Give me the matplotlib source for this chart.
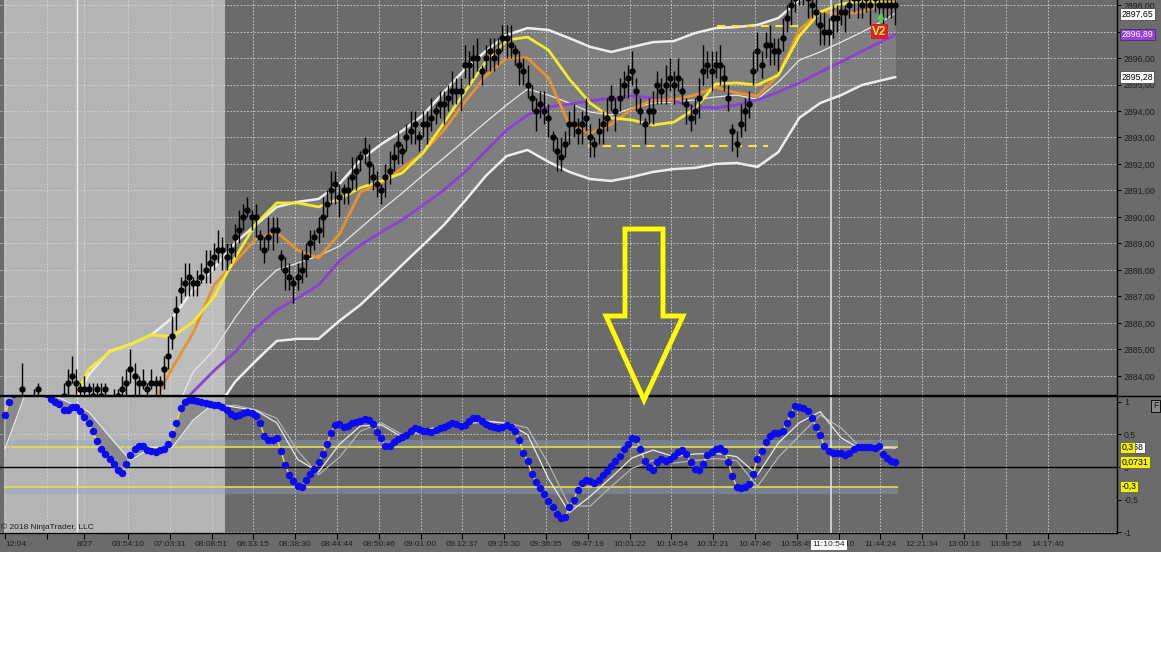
import matplotlib
matplotlib.use('Agg')
import matplotlib.pyplot as plt
import numpy as np
from matplotlib.patches import Rectangle, Polygon
from matplotlib.lines import Line2D
from matplotlib.ticker import FuncFormatter

plt.rcParams['font.family'] = ['Liberation Sans', 'DejaVu Sans']

# ---- price bars (one per bar index) ----
closes = [
    2883.0, 2882.75, 2882.75, 2883.0, 2883.5, 2883.0, 2882.75, 2883.0, 2883.5, 2883.0,
    2882.75, 2882.5, 2882.75, 2883.0, 2883.25, 2883.75, 2884.0, 2883.75, 2883.5, 2883.5,
    2883.5, 2883.25, 2883.5, 2883.25, 2883.5, 2883.0, 2883.0, 2883.25, 2883.5, 2883.75,
    2884.25, 2884.0, 2883.75, 2883.75, 2883.5, 2883.75, 2883.75, 2883.75, 2884.25, 2884.75,
    2885.5, 2886.5, 2887.25, 2887.5, 2887.75, 2887.5, 2887.5, 2887.75, 2888.0, 2888.25,
    2888.5, 2888.75, 2888.75, 2888.5, 2888.75, 2889.25, 2889.5, 2890.0, 2890.25, 2890.0,
    2890.0, 2889.25, 2888.75, 2889.25, 2889.5, 2889.5, 2888.5, 2888.0, 2887.75, 2887.5,
    2887.75, 2888.0, 2888.5, 2889.0, 2889.25, 2889.5, 2890.0, 2890.5, 2891.0, 2891.25,
    2890.75, 2891.0, 2891.0, 2891.5, 2891.75, 2892.25, 2892.5, 2892.0, 2891.5, 2891.25,
    2891.0, 2891.5, 2891.75, 2892.25, 2892.75, 2892.5, 2893.0, 2893.25, 2893.5, 2893.0,
    2893.5, 2893.5, 2893.75, 2894.0, 2894.25, 2894.25, 2894.5, 2894.75, 2894.75, 2894.75,
    2895.75, 2895.75, 2896.0, 2896.0, 2895.5, 2896.0, 2896.25, 2896.0, 2896.25, 2896.75,
    2896.75, 2896.5, 2896.25, 2895.75, 2895.5, 2895.0, 2894.5, 2894.0, 2894.25, 2894.0,
    2893.75, 2893.0, 2892.5, 2892.25, 2892.75, 2893.5, 2893.5, 2893.25, 2893.5, 2893.75,
    2893.0, 2892.75, 2893.25, 2893.5, 2893.75, 2894.5, 2894.0, 2894.5, 2895.0, 2895.25,
    2895.5, 2894.75, 2894.0, 2893.5, 2894.0, 2894.0, 2895.0, 2894.75, 2895.0, 2895.25,
    2895.0, 2895.25, 2894.75, 2894.25, 2893.75, 2894.0, 2894.5, 2895.5, 2895.75, 2895.5,
    2895.75, 2895.75, 2895.25, 2894.5, 2893.25, 2892.75, 2893.5, 2894.0, 2894.25, 2895.5,
    2896.25, 2895.75, 2896.5, 2896.5, 2896.25, 2896.25, 2896.75, 2897.5, 2898.0, 2898.25,
    2898.5, 2898.5, 2898.25, 2898.0, 2897.75, 2897.25, 2897.0, 2897.0, 2897.5, 2897.5,
    2897.75, 2897.75, 2898.0, 2898.25, 2898.25, 2898.0, 2898.25, 2898.0, 2898.25, 2898.0,
    2898.0, 2898.0, 2898.0, 2898.0,
]
# wick lengths in ticks (0.25 pt)
wick_up = [
    1, 1, 2, 1, 4, 1, 1, 2, 1, 1,  1, 2, 1, 1, 2, 2, 3, 2, 1, 2,
    1, 2, 1, 2, 1, 1, 2, 1, 2, 2,  3, 2, 1, 2, 1, 2, 1, 1, 2, 3,
    3, 2, 2, 3, 2, 1, 2, 2, 3, 2,  2, 3, 2, 2, 1, 2, 3, 2, 2, 1,
    2, 1, 2, 3, 2, 2, 1, 2, 2, 1,  2, 3, 2, 2, 1, 2, 3, 2, 3, 2,
    2, 1, 2, 3, 2, 1, 2, 3, 2, 2,  1, 2, 3, 2, 2, 1, 2, 3, 2, 1,
    2, 2, 3, 1, 2, 2, 2, 3, 2, 2,  3, 2, 2, 3, 1, 2, 2, 3, 2, 2,
    2, 3, 1, 2, 2, 3, 2, 2, 2, 3,  2, 1, 2, 3, 2, 2, 3, 2, 2, 3,
    2, 1, 2, 2, 3, 2, 2, 3, 2, 2,  3, 2, 2, 1, 2, 3, 2, 2, 3, 3,
    2, 3, 2, 1, 2, 2, 3, 4, 2, 3,  2, 3, 2, 2, 1, 2, 3, 2, 2, 3,
    3, 2, 2, 3, 2, 2, 3, 2, 2, 1,  1, 2, 2, 1, 2, 2, 3, 2, 2, 2,
    2, 1, 2, 1, 2, 1, 2, 1, 2, 1,  2, 1, 2, 1,
]
wick_dn = [
    1, 2, 1, 1, 1, 2, 1, 1, 2, 1,  2, 1, 1, 2, 1, 2, 1, 2, 2, 1,
    2, 1, 2, 1, 2, 2, 1, 2, 1, 2,  2, 3, 2, 1, 2, 1, 2, 2, 3, 2,
    2, 3, 2, 2, 3, 2, 2, 1, 2, 3,  2, 2, 3, 2, 2, 3, 2, 2, 1, 2,
    3, 2, 2, 2, 3, 2, 2, 3, 2, 3,  2, 2, 3, 2, 2, 2, 3, 2, 2, 3,
    3, 2, 2, 2, 3, 2, 2, 3, 2, 2,  2, 3, 2, 2, 3, 2, 2, 2, 3, 2,
    2, 3, 2, 2, 2, 3, 2, 2, 2, 3,  2, 3, 3, 2, 2, 2, 3, 2, 2, 2,
    3, 2, 2, 3, 2, 2, 2, 3, 2, 2,  3, 2, 3, 2, 2, 3, 2, 2, 3, 2,
    3, 2, 2, 3, 2, 2, 3, 2, 2, 3,  2, 3, 2, 3, 2, 2, 3, 2, 3, 2,
    3, 2, 2, 3, 2, 2, 3, 2, 2, 3,  2, 3, 2, 2, 3, 2, 2, 3, 2, 2,
    3, 2, 2, 3, 2, 3, 2, 2, 3, 2,  2, 2, 3, 2, 2, 3, 2, 2, 3, 2,
    2, 3, 2, 2, 3, 2, 2, 3, 2, 2,  3, 2, 2, 3,
]

# ---- oscillator (one per bar) ----
osc = [
    0.8, 1.0, 1.12, 1.15, 1.18, 1.2, 1.2, 1.2, 1.18, 1.15,
    1.12, 1.05, 1.0, 0.97, 0.88, 0.88, 0.92, 0.92, 0.86, 0.77,
    0.67, 0.55, 0.4, 0.28, 0.2, 0.13, 0.05, -0.04, -0.09, 0.05,
    0.19, 0.27, 0.32, 0.33, 0.26, 0.24, 0.23, 0.26, 0.28, 0.35,
    0.5, 0.68, 0.9, 1.0, 1.03, 1.03, 1.01, 1.0, 0.98, 0.97,
    0.96, 0.95, 0.92, 0.88, 0.81, 0.78, 0.8, 0.83, 0.85, 0.83,
    0.79, 0.68, 0.48, 0.42, 0.42, 0.45, 0.25, 0.03, -0.12, -0.22,
    -0.29, -0.31, -0.2, -0.11, -0.03, 0.07, 0.2, 0.36, 0.53, 0.65,
    0.66, 0.62, 0.63, 0.68, 0.69, 0.71, 0.74, 0.73, 0.66, 0.54,
    0.44, 0.32, 0.32, 0.38, 0.43, 0.46, 0.49, 0.56, 0.6, 0.58,
    0.56, 0.55, 0.54, 0.57, 0.6, 0.62, 0.65, 0.68, 0.66, 0.63,
    0.64, 0.7, 0.76, 0.76, 0.71, 0.66, 0.63, 0.62, 0.6, 0.62,
    0.65, 0.62, 0.55, 0.41, 0.22, 0.09, -0.1, -0.23, -0.32, -0.41,
    -0.52, -0.62, -0.73, -0.78, -0.77, -0.61, -0.5, -0.36, -0.24, -0.2,
    -0.22, -0.24, -0.2, -0.13, -0.06, 0.02, 0.1, 0.17, 0.27, 0.36,
    0.44, 0.43, 0.27, 0.1, 0.0, -0.04, 0.08, 0.13, 0.1, 0.12,
    0.17, 0.23, 0.26, 0.2, 0.07, -0.03, -0.04, 0.05, 0.18, 0.23,
    0.28, 0.29, 0.25, 0.08, -0.14, -0.3, -0.32, -0.3, -0.26, -0.1,
    0.13, 0.25, 0.39, 0.48, 0.52, 0.52, 0.56, 0.68, 0.82, 0.94,
    0.93, 0.91, 0.86, 0.76, 0.62, 0.49, 0.32, 0.24, 0.22, 0.22,
    0.22, 0.18, 0.22, 0.27, 0.3, 0.31, 0.31, 0.3, 0.29, 0.33,
    0.2, 0.14, 0.1, 0.07,
]

# ---- indicator lines, sampled every 5 bars ----
ma_bars = list(range(0, 211, 5)) + [213]
ema_fast = [
    2882.0, 2882.2, 2882.5, 2882.6, 2884.25, 2884.9, 2885.2, 2885.55, 2885.47, 2886.04,
    2886.98, 2888.45, 2889.74, 2890.53, 2890.53, 2890.38, 2890.68, 2891.1, 2891.36, 2891.66,
    2892.42, 2893.55, 2894.72, 2895.85, 2896.68, 2896.79, 2896.3, 2895.2, 2894.3, 2893.74,
    2893.66, 2893.47, 2893.58, 2894.08, 2895.02, 2895.06, 2894.98, 2895.36, 2896.83, 2897.74,
    2898.04, 2898.15, 2898.1, 2898.08,
]
ema_slow = [
    2881.0, 2881.3, 2881.6, 2881.9, 2882.1, 2882.3, 2882.5, 2882.8, 2884.3, 2885.62,
    2887.43, 2888.3, 2889.17, 2889.43, 2888.75, 2888.45, 2889.36, 2890.94, 2891.28, 2891.85,
    2892.42, 2893.28, 2894.34, 2895.32, 2896.0, 2896.0, 2895.25, 2893.47, 2893.17, 2893.5,
    2894.08, 2894.42, 2894.42, 2894.6, 2894.9, 2894.68, 2894.57, 2895.36, 2897.06, 2897.77,
    2897.66, 2897.74, 2898.04, 2898.15,
]
ma_long = [
    2879.5, 2879.8, 2880.1, 2880.4, 2880.7, 2881.0, 2881.4, 2881.9, 2882.6, 2883.4,
    2884.2, 2884.9, 2885.81, 2886.49, 2886.94, 2887.43, 2888.34, 2888.94, 2889.43, 2889.89,
    2890.45, 2891.02, 2891.7, 2892.49, 2893.28, 2893.85, 2894.15, 2894.26, 2894.38, 2894.49,
    2894.57, 2894.49, 2894.38, 2894.15, 2894.11, 2894.23, 2894.42, 2894.72, 2895.06, 2895.47,
    2895.85, 2896.26, 2896.64, 2896.89,
]
band_upper = [
    2880.5, 2880.8, 2881.3, 2882.5, 2884.04, 2884.94, 2885.2, 2885.55, 2886.19, 2887.25,
    2888.08, 2889.02, 2889.7, 2890.38, 2890.57, 2890.68, 2891.25, 2892.15, 2892.75, 2893.25,
    2893.85, 2894.72, 2895.58, 2896.26, 2896.87, 2897.13, 2897.06, 2896.75, 2896.42, 2896.23,
    2896.42, 2896.6, 2896.64, 2896.94, 2897.13, 2897.17, 2897.25, 2897.51, 2898.19, 2898.7,
    2899.0, 2899.2, 2899.35, 2899.4,
]
band_mid = [
    2878.0, 2878.3, 2878.6, 2879.0, 2879.4, 2879.8, 2880.3, 2881.0, 2882.4, 2884.15,
    2884.98, 2886.19, 2887.25, 2888.0, 2888.26, 2888.53, 2888.9, 2889.58, 2890.26, 2890.9,
    2891.58, 2892.23, 2892.9, 2893.58, 2894.23, 2894.83, 2894.6, 2894.3, 2893.96, 2893.85,
    2894.11, 2894.3, 2894.34, 2894.42, 2894.53, 2894.6, 2894.45, 2895.1, 2895.92, 2896.23,
    2896.6, 2896.98, 2897.4, 2897.7,
]
band_lower = [
    2876.0, 2876.3, 2876.6, 2877.0, 2877.4, 2877.8, 2878.3, 2879.0, 2880.0, 2881.2,
    2882.6, 2883.77, 2884.57, 2885.32, 2885.4, 2885.4, 2886.08, 2886.68, 2887.43, 2888.19,
    2888.94, 2889.7, 2890.6, 2891.55, 2892.3, 2892.53, 2892.08, 2891.7, 2891.43, 2891.36,
    2891.51, 2891.7, 2891.81, 2891.85, 2892.0, 2892.04, 2891.89, 2892.45, 2893.74, 2894.3,
    2894.6, 2894.98, 2895.17, 2895.28,
]
sig_fast = [
    0.28, 1.15, 1.15, 1.0, 0.85, 0.47, 0.1, 0.3, 0.3, 0.72,
    0.98, 0.92, 0.87, 0.68, 0.12, -0.08, 0.35, 0.63, 0.65, 0.46,
    0.57, 0.63, 0.68, 0.71, 0.67, 0.5, -0.18, -0.7, -0.45, -0.16,
    0.14, 0.26, 0.16, 0.2, 0.21, 0.16, -0.12, 0.37, 0.68, 0.85,
    0.45, 0.26, 0.3, 0.29,
]
sig_slow = [
    0.1, 0.9, 1.15, 1.1, 0.95, 0.65, 0.2, 0.22, 0.28, 0.55,
    0.93, 0.95, 0.88, 0.75, 0.25, -0.12, 0.15, 0.55, 0.68, 0.5,
    0.53, 0.6, 0.65, 0.7, 0.68, 0.6, 0.05, -0.6, -0.6, -0.3,
    -0.02, 0.1, 0.06, 0.1, 0.13, 0.1, -0.3, 0.15, 0.48, 0.8,
    0.6, 0.28, 0.28, 0.31,
]

# ---- levels / markers ----
dash_levels = [2892.68, 2897.2]
dash_start = [139.5, 170.3]
dash_end = [182.5, 191.4]
osc_levels = [0.3, -0.3]
signal_bar, signal_price = 209.2, 2897.0
session_start, session_end = -0.2, 52.6
date_bar = 17.2
cursor_bar = 197.6

tick_pos = [0, 10, 19, 29.4, 39.4, 49.4, 59.4, 69.4, 79.4, 89.4, 99.4, 109.4, 119.4,
            129.4, 139.4, 149.4, 159.4, 169.4, 179.4, 189.4, 199.4, 209.4, 219.4,
            229.4, 239.4, 249.4]
tick_labels = ['12:04', '', '8/27', '03:54:10', '07:03:31', '08:08:51', '08:33:15',
               '08:38:30', '08:44:44', '08:50:46', '09:01:00', '09:12:37', '09:25:30',
               '09:36:35', '09:47:19', '10:01:22', '10:14:54', '10:32:21', '10:47:46',
               '10:58:49', '11:27:10', '11:44:24', '12:21:34', '13:00:16', '13:38:58',
               '14:17:40']
price_ticks = list(range(2884, 2899))
osc_ticks = [-1, -0.5, 0, 0.5, 1]

W, H = 1161, 648
BG = '#6b6b6b'
LIGHT = '#b4b4b4'
GRID = '#d4d4d4'
TXT = '#1e1e1e'

fig = plt.figure(figsize=(W / 100, H / 100), dpi=100)
fig.patches.append(Rectangle((0, 1 - 552 / H), 1, 552 / H, transform=fig.transFigure,
                             facecolor=BG, edgecolor='none', zorder=-5))

ax = fig.add_axes([0, 1 - 395 / H, 1117 / W, 395 / H])
ax2 = fig.add_axes([0, 1 - 533 / H, 1117 / W, 137 / H], sharex=ax)

for a in (ax, ax2):
    a.set_facecolor(BG)
    a.set_axisbelow(True)
    for s in ('left', 'top'):
        a.spines[s].set_visible(False)
    for s in ('right', 'bottom'):
        a.spines[s].set_color('black')
        a.spines[s].set_linewidth(1)
    a.yaxis.tick_right()
    a.axvspan(session_start, session_end, color=LIGHT, lw=0, zorder=0.2)
    a.grid(axis='x', color=GRID, ls=(0, (2, 2)), lw=0.6)
    a.axvline(date_bar, color='#f0f0f0', lw=1, zorder=0.6)
    a.axvline(cursor_bar, color='#dedede', lw=1.2, zorder=4)
    a.tick_params(axis='y', direction='out', length=3, width=0.8, pad=2,
                  labelsize=6.3, labelcolor=TXT, color='black')

ax2.spines['top'].set_visible(True)
ax2.spines['top'].set_color('black')

ax.set_xlim(-1.2, 266.0)
ax.set_xticks(tick_pos)
ax.tick_params(axis='x', length=0, labelbottom=False)

# ---- price panel ----
ax.set_ylim(2883.28, 2898.19)
ax.set_yticks(price_ticks)
ax.yaxis.set_major_formatter(FuncFormatter(lambda v, p: f'{v:.2f}'.replace('.', ',')))
ax.grid(axis='y', color=GRID, ls=(0, (2, 2)), lw=0.6)

line_kw = dict(solid_joinstyle='round', solid_capstyle='round', zorder=3)
ax.fill_between(ma_bars, band_lower, band_upper, color='white', alpha=0.13, lw=0, zorder=1)
ax.plot(ma_bars, band_upper, color='#ededed', lw=1.8, **line_kw)
ax.plot(ma_bars, band_lower, color='#ededed', lw=1.8, **line_kw)
ax.plot(ma_bars, band_mid, color='#e6e6e6', lw=0.9, **line_kw)
ax.plot(ma_bars, ma_long, color='#8d3fd6', lw=2, **line_kw)
ax.plot(ma_bars, ema_slow, color='#e8932a', lw=2, **line_kw)
ax.plot(ma_bars, ema_fast, color='#f4ea2c', lw=2, **line_kw)

ax.hlines(dash_levels, dash_start, dash_end, colors='#f2e832', lw=1.5,
          linestyles=(0, (4, 3)), zorder=3)

bars = np.arange(len(closes))
c = np.array(closes)
hi = c + 0.25 * np.array(wick_up)
lo = c - 0.25 * np.array(wick_dn)
ax.vlines(bars, lo, hi, color='black', lw=1, zorder=5)
ax.plot(bars, c, 'o', color='black', ms=3.6, zorder=6)

ax.text(signal_bar, signal_price, 'V2', color='#ffef3a', fontsize=8.5, fontweight='bold',
        ha='center', va='center', zorder=8,
        bbox=dict(facecolor='#d8202c', edgecolor='none', pad=1.2))
ax.annotate('', xy=(signal_bar + 0.3, signal_price + 0.85),
            xytext=(signal_bar + 0.3, signal_price + 0.25),
            arrowprops=dict(arrowstyle='-|>', color='#4cd44c', lw=1.6, mutation_scale=8),
            zorder=8)

ytr = ax.get_yaxis_transform()
price_tags = [('2898,50', 2898.45, '#f0a030', 'black'),
              ('2897,65', 2897.65, 'white', 'black'),
              ('2896,89', 2896.89, '#9a3ee0', 'white'),
              ('2895,28', 2895.28, 'white', 'black')]
for txt, yv, fc, tc in price_tags:
    ax.text(1.004, yv, txt, transform=ytr, fontsize=6.3, color=tc, ha='left', va='center',
            clip_on=False, zorder=9,
            bbox=dict(boxstyle='square,pad=0.15', facecolor=fc, edgecolor='#333333', lw=0.5))

# ---- oscillator panel ----
ax2.set_ylim(-1.015, 1.092)
ax2.set_yticks(osc_ticks)
ax2.yaxis.set_major_formatter(FuncFormatter(lambda v, p: f'{v:g}'.replace('.', ',')))
ax2.hlines([0.5, -1.0], -1.2, 266.0, colors=GRID, lw=0.6, linestyles=(0, (2, 2)), zorder=0.5)
ax2.fill_between([session_start, 213.5], 0.3, 0.41, color='#8fa3c0', alpha=0.4, lw=0, zorder=1)
ax2.fill_between([session_start, 213.5], -0.3, -0.41, color='#8fa3c0', alpha=0.4, lw=0, zorder=1)
ax2.hlines(osc_levels, session_start, 213.5, colors='#e4df48', lw=1.2, zorder=2)
ax2.axhline(0, color='black', lw=1, zorder=2)

sig_on_bars = np.interp(bars, ma_bars, sig_fast)
ax2.fill_between(bars, osc, sig_on_bars, where=bars <= session_end, color='#8a8a8a',
                 lw=0, zorder=2.5)
ax2.plot(ma_bars, sig_slow, color='#b4b4b4', lw=0.9, **line_kw)
ax2.plot(ma_bars, sig_fast, color='#e8e8e8', lw=0.9, **line_kw)
ax2.plot(bars, osc, color='#f0e040', lw=1, zorder=4)
ax2.plot(bars, osc, 'o', color='#0a0af5', ms=5.4, mec='none', zorder=5)

ax2.set_xticklabels(tick_labels)
ax2.tick_params(axis='x', direction='out', length=4, width=0.8, pad=1.5,
                labelsize=6, labelcolor=TXT, color='black')
ax2.get_xticklabels()[0].set_horizontalalignment('left')

ytr2 = ax2.get_yaxis_transform()
ax2.text(1.004, 0.3, '0,158', transform=ytr2, fontsize=6.3, color='black', ha='left',
         va='center', clip_on=False, zorder=8,
         bbox=dict(boxstyle='square,pad=0.15', facecolor='white', edgecolor='#333333', lw=0.5))
osc_tags = [('0,3', 0.3), ('0,0731', 0.0731), ('-0,3', -0.3)]
for txt, yv in osc_tags:
    ax2.text(1.004, yv, txt, transform=ytr2, fontsize=6.3, color='black', ha='left',
             va='center', clip_on=False, zorder=9,
             bbox=dict(boxstyle='square,pad=0.15', facecolor='#f4f000', edgecolor='#555555', lw=0.5))

# ---- figure-level decorations ----
fig.add_artist(Line2D([0, 1], [1 - 395.5 / H] * 2, color='black', lw=1,
                      transform=fig.transFigure))
fig.text(1 / W, 1 - 531 / H, '\u00a9 2018 NinjaTrader, LLC', fontsize=6, color=TXT,
         ha='left', va='bottom')
fig.text(829 / W, 1 - 545 / H, '11:10:54', fontsize=6, color=TXT, ha='center',
         va='center', zorder=10,
         bbox=dict(boxstyle='square,pad=0.2', facecolor='white', edgecolor='none'))
fig.text(1153 / W, 1 - 406 / H, 'F', fontsize=6.5, color=TXT, ha='left', va='center',
         bbox=dict(boxstyle='square,pad=0.2', facecolor='#8a8a8a', edgecolor='black', lw=0.6))

# big hand-drawn style down arrow (pixel outline)
arrow_px = [(625, 229), (663, 229), (663, 316), (683, 316), (644, 400),
            (606, 316), (625, 316)]
arrow = Polygon([(x / W, 1 - y / H) for x, y in arrow_px], closed=True, fill=False,
                edgecolor='#ffff00', lw=3.5, joinstyle='miter', transform=fig.transFigure,
                zorder=20)
fig.add_artist(arrow)

fig.savefig('out.png', dpi=100, facecolor='white')
